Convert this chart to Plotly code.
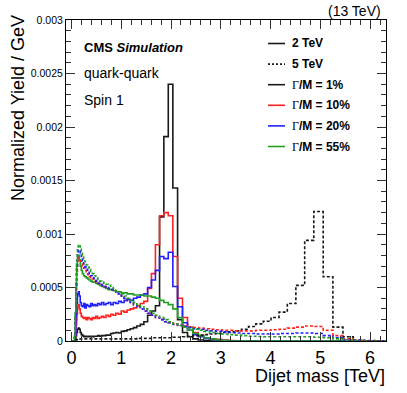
import plotly.graph_objects as go

# CMS dijet mass bin edges (GeV)
bin_edges_gev = [1, 3, 6, 10, 16, 23, 31, 40, 50, 61, 74, 88, 103, 119, 137, 156, 176, 197, 220, 244,
                 270, 296, 325, 354, 386, 419, 453, 489, 526, 565, 606, 649, 693, 740, 788, 838, 890, 944,
                 1000, 1058, 1118, 1181, 1246, 1313, 1383, 1455, 1530, 1607, 1687, 1770, 1856, 1945, 2037,
                 2132, 2231, 2332, 2438, 2546, 2659, 2775, 2895, 3019, 3147, 3279, 3416, 3558, 3704, 3854,
                 4010, 4171, 4337, 4509, 4686, 4869, 5058, 5253, 5455, 5663, 5877, 6099, 6328, 6564]

# Normalized yield / GeV per bin (81 bins)
m2_w1 = [0, 0, 0, 0, 0, 0, 0, 0, 0, 0,
         0.2e-4, 0.5e-4, 0.8e-4, 1.1e-4, 1.2e-4, 1.1e-4, 0.8e-4, 0.6e-4, 0.5e-4, 0.4e-4,
         0.45e-4, 0.4e-4, 0.45e-4, 0.4e-4, 0.45e-4, 0.4e-4, 0.45e-4, 0.45e-4, 0.5e-4, 0.45e-4,
         0.5e-4, 0.5e-4, 0.55e-4, 0.55e-4, 0.7e-4, 0.75e-4, 0.8e-4, 0.75e-4, 0.9e-4, 0.95e-4,
         1.05e-4, 1.15e-4, 1.25e-4, 1.4e-4, 1.55e-4, 1.8e-4, 2.4e-4, 2.8e-4, 3.3e-4, 11.6e-4,
         19.1e-4, 24.0e-4, 14.3e-4, 2.0e-4, 0.8e-4, 0.4e-4, 0.2e-4, 0.1e-4, 0.05e-4, 0,
         0, 0, 0, 0, 0, 0, 0, 0, 0, 0,
         0, 0, 0, 0, 0, 0, 0, 0, 0, 0,
         0]
m2_w10 = [0, 0, 0, 0, 0, 0, 0, 0, 0, 0,
          0.5e-4, 1.5e-4, 2.5e-4, 3.2e-4, 3.4e-4, 3.0e-4, 2.6e-4, 2.3e-4, 2.2e-4, 2.1e-4,
          2.2e-4, 2.0e-4, 2.2e-4, 2.1e-4, 2.0e-4, 2.2e-4, 2.1e-4, 2.3e-4, 2.1e-4, 2.2e-4,
          2.3e-4, 2.2e-4, 2.4e-4, 2.3e-4, 2.5e-4, 2.4e-4, 2.6e-4, 2.5e-4, 2.8e-4, 2.7e-4,
          2.9e-4, 3.0e-4, 3.1e-4, 3.3e-4, 3.5e-4, 3.7e-4, 4.9e-4, 6.3e-4, 9.0e-4, 11.7e-4,
          12.0e-4, 11.7e-4, 7.9e-4, 4.0e-4, 2.2e-4, 1.3e-4, 0.8e-4, 0.5e-4, 0.3e-4, 0.2e-4,
          0.15e-4, 0.1e-4, 0.05e-4, 0, 0, 0, 0, 0, 0, 0,
          0, 0, 0, 0, 0, 0, 0, 0, 0, 0,
          0]
m2_w20 = [0, 0, 0, 0, 0, 0, 0, 0, 0, 0,
          0.5e-4, 2.0e-4, 3.5e-4, 4.4e-4, 4.6e-4, 4.2e-4, 3.6e-4, 3.3e-4, 3.2e-4, 3.5e-4,
          3.1e-4, 3.4e-4, 3.3e-4, 3.2e-4, 3.5e-4, 3.3e-4, 3.4e-4, 3.3e-4, 3.5e-4, 3.4e-4,
          3.6e-4, 3.4e-4, 3.5e-4, 3.6e-4, 3.4e-4, 3.6e-4, 3.5e-4, 3.7e-4, 3.6e-4, 3.8e-4,
          3.9e-4, 3.8e-4, 4.0e-4, 4.1e-4, 4.3e-4, 4.4e-4, 5.0e-4, 5.7e-4, 6.6e-4, 7.9e-4,
          7.7e-4, 8.3e-4, 5.1e-4, 3.2e-4, 1.7e-4, 1.0e-4, 0.6e-4, 0.4e-4, 0.25e-4, 0.15e-4,
          0.1e-4, 0.05e-4, 0, 0, 0, 0, 0, 0, 0, 0,
          0, 0, 0, 0, 0, 0, 0, 0, 0, 0,
          0]
m2_w55 = [0, 0, 0, 0, 0, 0, 0, 0, 0, 0.5e-4,
          2.5e-4, 5.0e-4, 7.0e-4, 7.8e-4, 8.0e-4, 7.6e-4, 7.0e-4, 6.6e-4, 6.3e-4, 6.1e-4,
          6.0e-4, 5.9e-4, 5.8e-4, 5.7e-4, 5.6e-4, 5.5e-4, 5.5e-4, 5.4e-4, 5.3e-4, 5.2e-4,
          5.1e-4, 5.0e-4, 4.9e-4, 4.8e-4, 4.8e-4, 4.7e-4, 4.6e-4, 4.6e-4, 4.5e-4, 4.5e-4,
          4.4e-4, 4.4e-4, 4.3e-4, 4.3e-4, 4.3e-4, 4.2e-4, 4.2e-4, 4.1e-4, 4.0e-4, 3.8e-4,
          3.6e-4, 3.4e-4, 3.0e-4, 2.2e-4, 1.4e-4, 1.0e-4, 0.7e-4, 0.5e-4, 0.3e-4, 0.2e-4,
          0.1e-4, 0.05e-4, 0, 0, 0, 0, 0, 0, 0, 0,
          0, 0, 0, 0, 0, 0, 0, 0, 0, 0,
          0]
m5_w1 = [0, 0, 0, 0, 0, 0, 0, 0, 0, 0,
         0.05e-4, 0.1e-4, 0.15e-4, 0.2e-4, 0.2e-4, 0.2e-4, 0.2e-4, 0.2e-4, 0.2e-4, 0.2e-4,
         0.2e-4, 0.2e-4, 0.2e-4, 0.2e-4, 0.2e-4, 0.2e-4, 0.2e-4, 0.2e-4, 0.2e-4, 0.2e-4,
         0.2e-4, 0.2e-4, 0.2e-4, 0.2e-4, 0.2e-4, 0.2e-4, 0.2e-4, 0.2e-4, 0.2e-4, 0.2e-4,
         0.2e-4, 0.2e-4, 0.2e-4, 0.25e-4, 0.25e-4, 0.25e-4, 0.25e-4, 0.3e-4, 0.3e-4, 0.3e-4,
         0.3e-4, 0.3e-4, 0.35e-4, 0.35e-4, 0.4e-4, 0.45e-4, 0.5e-4, 0.55e-4, 0.6e-4, 0.65e-4,
         0.7e-4, 0.8e-4, 0.85e-4, 0.95e-4, 1.1e-4, 1.35e-4, 1.6e-4, 1.85e-4, 2.2e-4, 2.7e-4,
         3.5e-4, 5.2e-4, 9.4e-4, 12.1e-4, 6.0e-4, 1.3e-4, 0.4e-4, 0.1e-4, 0.05e-4, 0,
         0]
m5_w10 = [0, 0, 0, 0, 0, 0, 0, 0, 0, 0.3e-4,
          2.0e-4, 4.5e-4, 6.5e-4, 7.5e-4, 7.8e-4, 7.7e-4, 7.5e-4, 7.2e-4, 7.0e-4, 6.8e-4,
          6.6e-4, 6.4e-4, 6.2e-4, 6.0e-4, 5.9e-4, 5.8e-4, 5.6e-4, 5.5e-4, 5.4e-4, 5.3e-4,
          5.2e-4, 5.1e-4, 5.0e-4, 4.9e-4, 4.8e-4, 4.7e-4, 4.5e-4, 4.4e-4, 4.2e-4, 4.0e-4,
          3.8e-4, 3.6e-4, 3.4e-4, 3.2e-4, 3.0e-4, 2.8e-4, 2.6e-4, 2.4e-4, 2.2e-4, 2.0e-4,
          1.8e-4, 1.7e-4, 1.6e-4, 1.5e-4, 1.4e-4, 1.3e-4, 1.25e-4, 1.2e-4, 1.15e-4, 1.1e-4,
          1.05e-4, 1.0e-4, 1.0e-4, 0.95e-4, 0.95e-4, 0.95e-4, 1.0e-4, 1.0e-4, 1.05e-4, 1.1e-4,
          1.2e-4, 1.3e-4, 1.4e-4, 1.35e-4, 1.0e-4, 0.5e-4, 0.2e-4, 0.05e-4, 0, 0,
          0]
m5_w20 = [0, 0, 0, 0, 0, 0, 0, 0, 0, 0.3e-4,
          2.2e-4, 5.0e-4, 7.0e-4, 8.2e-4, 8.5e-4, 8.4e-4, 8.1e-4, 7.8e-4, 7.5e-4, 7.2e-4,
          6.9e-4, 6.7e-4, 6.5e-4, 6.3e-4, 6.1e-4, 5.9e-4, 5.7e-4, 5.6e-4, 5.4e-4, 5.3e-4,
          5.2e-4, 5.1e-4, 5.0e-4, 4.9e-4, 4.8e-4, 4.7e-4, 4.5e-4, 4.4e-4, 4.2e-4, 4.0e-4,
          3.8e-4, 3.6e-4, 3.4e-4, 3.2e-4, 3.0e-4, 2.8e-4, 2.6e-4, 2.4e-4, 2.2e-4, 2.0e-4,
          1.8e-4, 1.7e-4, 1.55e-4, 1.45e-4, 1.35e-4, 1.25e-4, 1.15e-4, 1.1e-4, 1.0e-4, 0.95e-4,
          0.9e-4, 0.85e-4, 0.8e-4, 0.75e-4, 0.7e-4, 0.7e-4, 0.65e-4, 0.65e-4, 0.65e-4, 0.7e-4,
          0.7e-4, 0.75e-4, 0.75e-4, 0.7e-4, 0.5e-4, 0.3e-4, 0.1e-4, 0.05e-4, 0, 0,
          0]
m5_w55 = [0, 0, 0, 0, 0, 0, 0, 0, 0, 0.5e-4,
          2.8e-4, 5.5e-4, 7.5e-4, 8.7e-4, 9.0e-4, 8.9e-4, 8.6e-4, 8.3e-4, 8.0e-4, 7.7e-4,
          7.4e-4, 7.1e-4, 6.9e-4, 6.7e-4, 6.5e-4, 6.3e-4, 6.1e-4, 5.9e-4, 5.8e-4, 5.6e-4,
          5.5e-4, 5.4e-4, 5.3e-4, 5.2e-4, 5.0e-4, 4.9e-4, 4.7e-4, 4.6e-4, 4.4e-4, 4.2e-4,
          4.0e-4, 3.8e-4, 3.6e-4, 3.4e-4, 3.2e-4, 3.0e-4, 2.8e-4, 2.6e-4, 2.4e-4, 2.2e-4,
          2.0e-4, 1.8e-4, 1.6e-4, 1.45e-4, 1.3e-4, 1.2e-4, 1.1e-4, 1.0e-4, 0.9e-4, 0.8e-4,
          0.7e-4, 0.65e-4, 0.6e-4, 0.55e-4, 0.5e-4, 0.45e-4, 0.42e-4, 0.4e-4, 0.4e-4, 0.4e-4,
          0.4e-4, 0.4e-4, 0.4e-4, 0.35e-4, 0.3e-4, 0.2e-4, 0.1e-4, 0.05e-4, 0, 0,
          0]

y_tick_vals = [0, 0.0005, 0.001, 0.0015, 0.002, 0.0025, 0.003]
y_tick_text = ["0", "0.0005", "0.001", "0.0015", "0.002", "0.0025", "0.003"]
x_tick_vals = [0, 1, 2, 3, 4, 5, 6]

legend_labels = ["2 TeV", "5 TeV", "Γ/M = 1%", "Γ/M = 10%", "Γ/M = 20%", "Γ/M = 55%"]
width_colors = {"1": "#1a1a1a", "10": "#ff2020", "20": "#2020ff", "55": "#22a022"}

edges_tev = [e / 1000.0 for e in bin_edges_gev]
nb = len(edges_tev) - 1
series = [
    (m2_w1, "1", "solid"), (m2_w10, "10", "solid"), (m2_w20, "20", "solid"), (m2_w55, "55", "solid"),
    (m5_w1, "1", "dash"), (m5_w10, "10", "dash"), (m5_w20, "20", "dash"), (m5_w55, "55", "dash"),
]

FONT = "Liberation Sans, Arial, Helvetica, sans-serif"
fig = go.Figure()
for vals, w, style in series:
    assert len(vals) == nb, (len(vals), nb)
    fig.add_trace(go.Scatter(
        x=edges_tev, y=list(vals) + [vals[-1]], mode="lines",
        line=dict(shape="hv", color=width_colors[w], width=1.6,
                  dash="solid" if style == "solid" else "3px,2px"),
        showlegend=False, hoverinfo="skip"))

# Page body margin is removed in the written page, so the figure fills the whole window.
W, H = 407, 393
# desired plot frame in window pixels
FL, FR, FT, FB = 66, 386, 20, 341
L, R, T, B = FL, W - FR, FT, H - FB
pw, ph = W - L - R, H - T - B


def px(xs):
    return (xs - FL) / pw


def py(ys):
    return (FB - ys) / ph


fig.update_layout(
    width=W, height=H, margin=dict(l=L, r=R, t=T, b=B, autoexpand=False),
    paper_bgcolor="white", plot_bgcolor="white",
    font=dict(family=FONT, color="black"),
    hovermode=False,
    xaxis=dict(range=[-0.11, 6.32], tickvals=x_tick_vals, ticks="inside", ticklen=9,
               tickwidth=1, tickcolor="#333", showline=True, linecolor="black", linewidth=1,
               mirror="allticks", showgrid=False, zeroline=False,
               tickfont=dict(size=18, family=FONT),
               minor=dict(dtick=0.2, tick0=0, ticks="inside", ticklen=5, tickcolor="#333")),
    yaxis=dict(range=[0, 0.003], tickvals=y_tick_vals, ticktext=y_tick_text, ticks="inside",
               ticklen=9, tickwidth=1, tickcolor="#333", showline=True, linecolor="black",
               linewidth=1, mirror="allticks", showgrid=False, zeroline=False,
               tickfont=dict(size=10.5, family=FONT),
               minor=dict(dtick=0.0001, tick0=0, ticks="inside", ticklen=5, tickcolor="#333")),
)

ann = []
ann.append(dict(text="Normalized Yield / GeV", textangle=-90, xref="paper", yref="paper",
                x=px(18), y=py(13), xanchor="center", yanchor="top", showarrow=False,
                font=dict(size=18, family=FONT)))
ann.append(dict(text="Dijet mass [TeV]", xref="paper", yref="paper", x=px(387), y=py(376),
                xanchor="right", yanchor="middle", showarrow=False, font=dict(size=18, family=FONT)))
ann.append(dict(text="(13 TeV)", xref="paper", yref="paper", x=px(383), y=py(11),
                xanchor="right", yanchor="middle", showarrow=False, font=dict(size=14, family=FONT)))
ann.append(dict(text="<b>CMS <i>Simulation</i></b>", xref="paper", yref="paper", x=px(82), y=py(47),
                xanchor="left", yanchor="middle", showarrow=False, font=dict(size=13, family=FONT)))
ann.append(dict(text="quark-quark", xref="paper", yref="paper", x=px(82), y=py(73),
                xanchor="left", yanchor="middle", showarrow=False, font=dict(size=14, family=FONT)))
ann.append(dict(text="Spin 1", xref="paper", yref="paper", x=px(82), y=py(100),
                xanchor="left", yanchor="middle", showarrow=False, font=dict(size=14, family=FONT)))

legend_styles = [("#1a1a1a", "solid"), ("#1a1a1a", "dot"), (width_colors["1"], "solid"),
                 (width_colors["10"], "solid"), (width_colors["20"], "solid"), (width_colors["55"], "solid")]
shapes = []
for i, (lab, (col, dsh)) in enumerate(zip(legend_labels, legend_styles)):
    yy = 43.5 + 20.6 * i
    shapes.append(dict(type="line", xref="paper", yref="paper", x0=px(268), x1=px(285),
                       y0=py(yy), y1=py(yy), line=dict(color=col, width=1.6,
                                                       dash="solid" if dsh == "solid" else "2px,2px")))
    if lab.startswith("Γ"):
        txt = "<span style='font-family:Liberation Serif, Times New Roman, serif;font-weight:normal'>Γ</span><b>" + lab[1:] + "</b>"
    else:
        txt = "<b>" + lab + "</b>"
    ann.append(dict(text=txt, xref="paper", yref="paper", x=px(290), y=py(yy),
                    xanchor="left", yanchor="middle", showarrow=False, font=dict(size=12, family=FONT)))

fig.update_layout(annotations=ann, shapes=shapes)
fig.write_html("out.html", config={"displayModeBar": False, "staticPlot": True},
               post_script="document.body.style.margin='0px';")
